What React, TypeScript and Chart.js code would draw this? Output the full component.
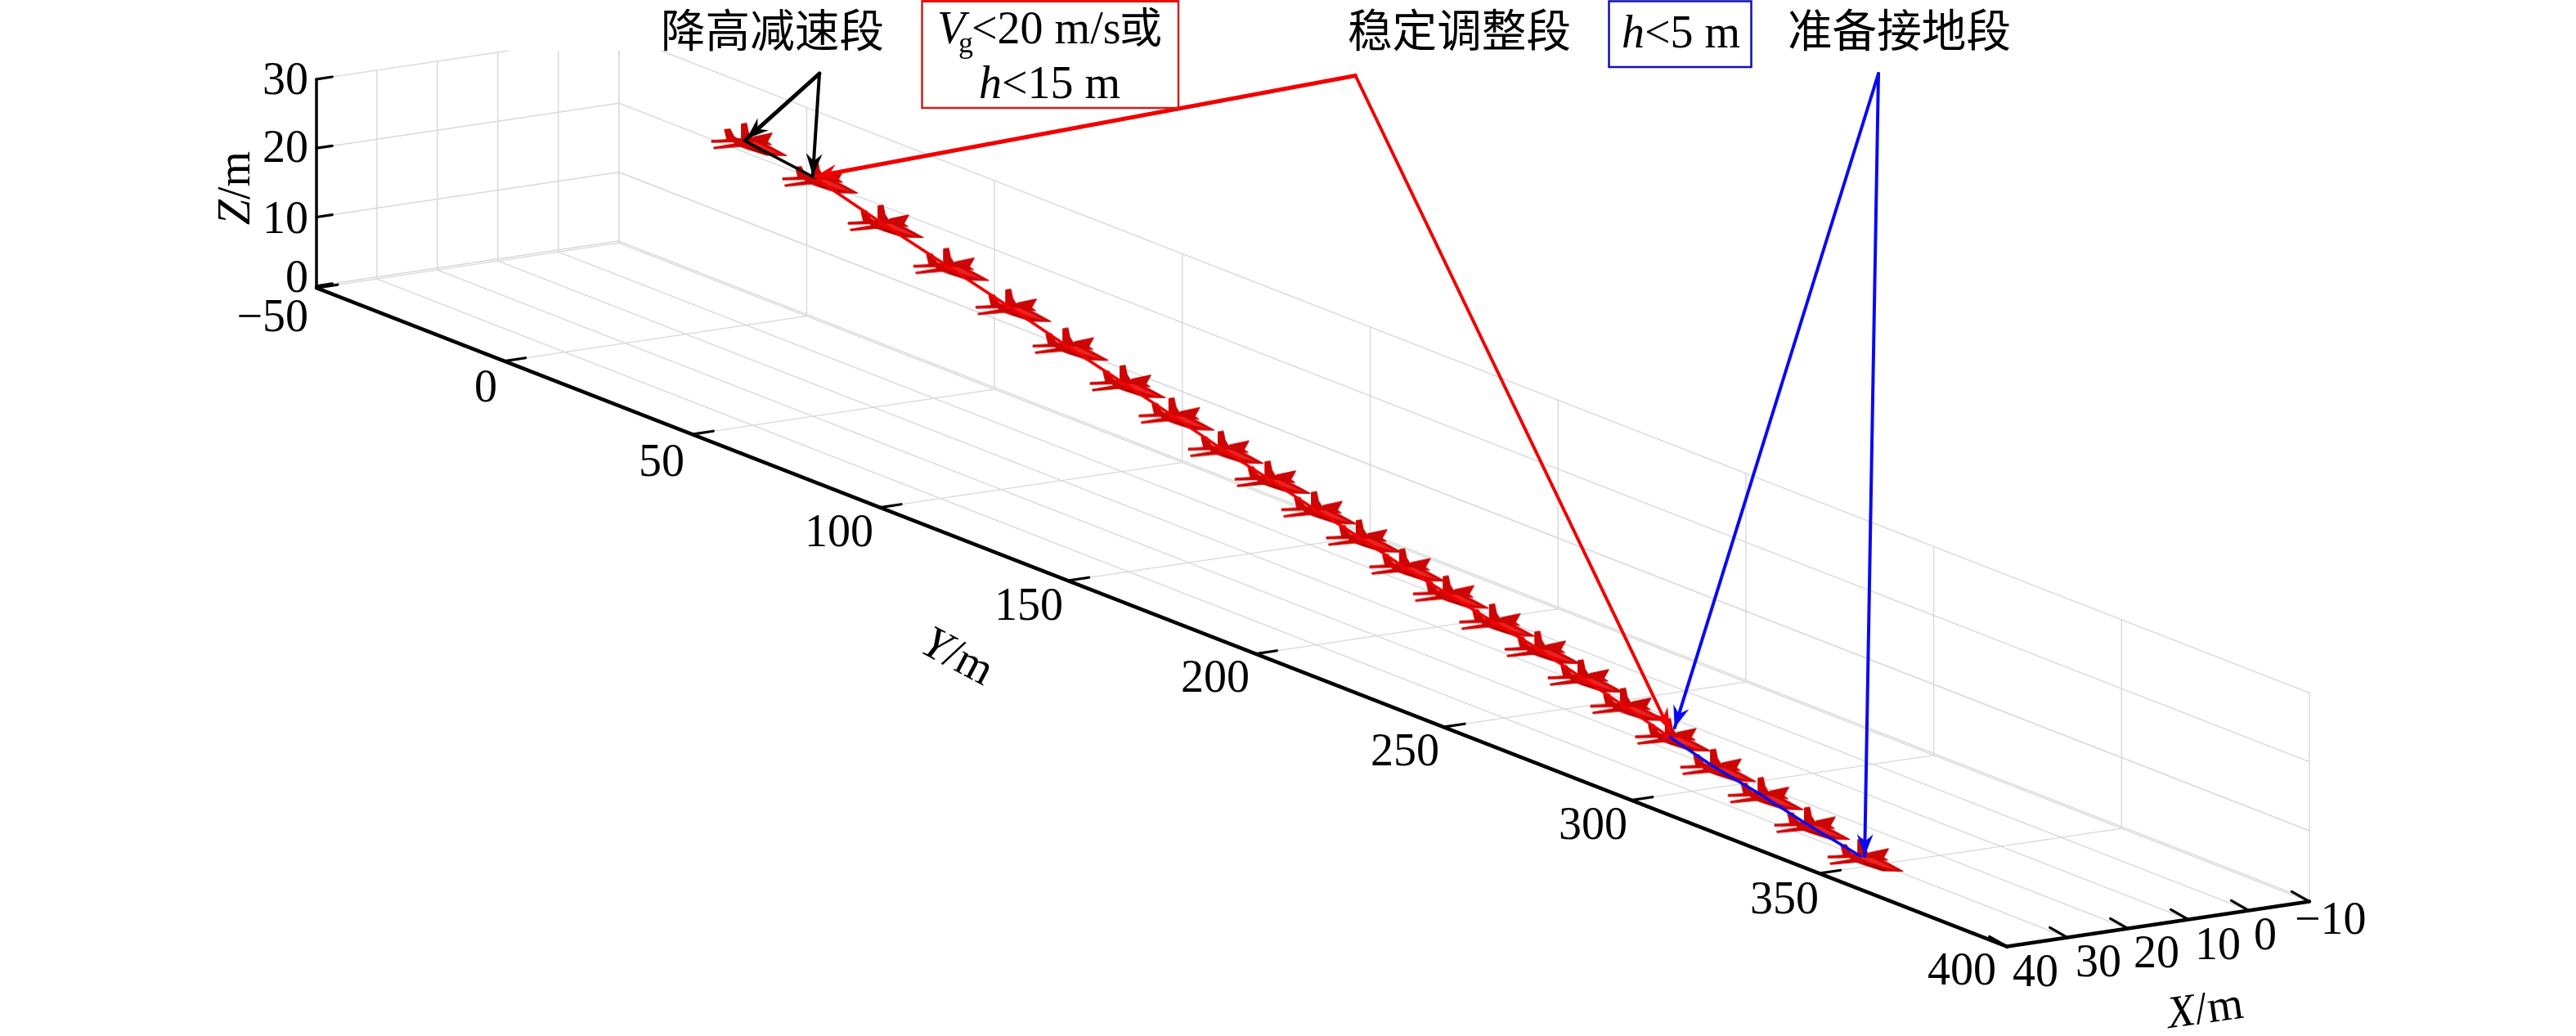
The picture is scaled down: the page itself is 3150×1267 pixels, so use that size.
import React, { useEffect, useRef } from "react";
import { Chart, registerables } from "chart.js";

Chart.register(...registerables);

// ---- data ----
const xTicks = [-10, 0, 10, 20, 30, 40];
const yTicks = [-50, 0, 50, 100, 150, 200, 250, 300, 350, 400];
const zTicks = [0, 10, 20, 30];
const zFloor = -0.27;

const flightX = [-9.3, -6.7, -4.3, -1.9, 0.3, 2.4, 4.5, 6.3, 8.1, 9.8, 11.5, 13.1, 14.7, 16.3, 17.9, 19.6, 21.1, 22.6, 24.3, 25.9, 27.6, 29.3, 31.3];
const flightY = [-15.5, 7.6, 28.9, 50.2, 70.3, 88.9, 107.5, 123.4, 139.4, 154.6, 169.7, 184.2, 198.3, 212.5, 227.4, 242.2, 256.1, 269.8, 284.5, 299.1, 314.5, 329.6, 347];
const flightZ = [22.0, 21.8, 20.2, 18.8, 17.4, 16.0, 14.8, 13.7, 12.5, 11.6, 10.6, 9.8, 8.8, 8.1, 7.4, 6.8, 5.8, 4.8, 3.7, 2.6, 2.0, 1.1, 0.45];

const segmentDescent = [0, 1];
const segmentSteady = [1, 18];
const segmentFlare = [18, 22];

const zTickLabels = ["0", "10", "20", "30"];
const yTickLabels = ["\u221250", "0", "50", "100", "150", "200", "250", "300", "350", "400"];
const xTickLabels = ["\u221210", "0", "10", "20", "30", "40"];

// ---- view of the 3D box (orthographic) ----
const VIEW = { ox: 387, oy: 349.8, yx: 4.594, yy: 1.79, xx: 7.394, xy: -1.1, zy: -8.43 };
const projX = (X: number, Y: number) => VIEW.ox + VIEW.yx * (Y + 50) + VIEW.xx * (40 - X);
const projY = (X: number, Y: number, Z: number) => VIEW.oy + VIEW.yy * (Y + 50) + VIEW.xy * (40 - X) + VIEW.zy * Z;
const P = (X: number, Y: number, Z: number) => ({ x: projX(X, Y), y: projY(X, Y, Z) });
const flightPt = (i: number) => P(flightX[i], flightY[i], flightZ[i]);

// ---- layout ----
const SERIF = '"Liberation Serif", "Times New Roman", serif';
const CJK = '"Noto Sans CJK SC", sans-serif';
const TICK_FONT = `56px ${SERIF}`;
const ITALIC_FONT = `italic 56px ${SERIF}`;
const GRID = "#d8d8d8";
const RED = "#f00000";
const BLUE = "#0a0af0";

const zLabelPos = [[377, 338], [377, 266], [377, 179], [377, 96]];
const yLabelPos = [[377, 386], [608, 472], [837, 563], [1068, 649], [1300, 739], [1528, 827], [1760, 917], [1990, 1007], [2224, 1098], [2441, 1185]];
const xLabelPos = [[2806, 1123], [2770, 1142], [2712, 1154], [2637, 1164], [2566, 1175], [2489, 1187]];

const leaders = [
  { color: "#000000", width: 5, start: [1002, 90], tip: 0, nudge: [3, -2] },
  { color: "#000000", width: 4, start: [1002, 90], tip: 1, nudge: [-3, -3] },
  { color: RED, width: 5, start: [1657.5, 92.5], tip: 1, nudge: [0, -2] },
  { color: RED, width: 4, start: [1657.5, 92.5], tip: 18, nudge: [2, -7] },
  { color: BLUE, width: 4, start: [2297, 90], tip: 18, nudge: [8, -10] },
  { color: BLUE, width: 4, start: [2297, 90], tip: 22, nudge: [5, 0] },
];
const tipOf = (l: (typeof leaders)[number]) => {
  const p = flightPt(l.tip);
  return { x: p.x + l.nudge[0], y: p.y + l.nudge[1] };
};

// ---- aircraft glyph ----
function makePlane(): HTMLCanvasElement {
  const c = document.createElement("canvas");
  c.width = 120;
  c.height = 60;
  const g = c.getContext("2d") as CanvasRenderingContext2D;
  g.translate(60, 30);
  g.lineJoin = "round";
  const poly = (fill: string, pts: number[][], stroke = 0) => {
    g.fillStyle = fill;
    g.strokeStyle = fill;
    g.lineWidth = stroke;
    g.beginPath();
    pts.forEach((p, i) => (i ? g.lineTo(p[0], p[1]) : g.moveTo(p[0], p[1])));
    g.closePath();
    g.fill();
    if (stroke) g.stroke();
  };
  const main = "#cc0505";
  poly(main, [[-40, -0.3], [-5, -2.3], [-3.3, 1.7], [-40, 2.3]], 0.8);
  poly(main, [[-37.7, 8.3], [-3.3, 2.3], [1.7, 6.7], [-36.7, 10.3]], 0.8);
  poly(main, [[-3.3, -20], [2.7, -21], [5, -10], [10, -1.7], [-3.3, 0]], 1.4);
  poly(main, [[-24, -13.3], [-17.3, -14], [-12.7, -5], [-6, 0], [-20.7, 0]], 1.4);
  poly(main, [[34, -9], [28, 1.7], [33, 5], [3, 1.7], [11.7, -4.3]], 1.4);
  poly(main, [[-16.7, -3.3], [13, 0], [30, 6.7], [51.7, 18.3], [26.7, 17.7], [3.3, 10], [-10, 5]], 1.4);
  poly("#8e0303", [[3.3, 9], [25, 16.7], [32, 17.7], [16.7, 11.7]], 0.5);
  poly("#ee2020", [[-4, 1], [14, 2], [33, 11], [44, 17], [28, 13], [10, 7]]);
  return c;
}

// ---- text helpers ----
type Run = { t: string; f: string };
function runWidth(ctx: CanvasRenderingContext2D, runs: Run[]) {
  return runs.reduce((w, r) => {
    ctx.font = r.f;
    return w + ctx.measureText(r.t).width;
  }, 0);
}
function drawRuns(ctx: CanvasRenderingContext2D, x: number, y: number, runs: Run[]) {
  let cx = x;
  runs.forEach((r) => {
    ctx.font = r.f;
    ctx.fillText(r.t, cx, y);
    cx += ctx.measureText(r.t).width;
  });
}
function drawRotated(ctx: CanvasRenderingContext2D, cx: number, cy: number, deg: number, runs: Run[]) {
  ctx.save();
  ctx.translate(cx, cy);
  ctx.rotate((deg * Math.PI) / 180);
  drawRuns(ctx, -runWidth(ctx, runs) / 2, 19, runs);
  ctx.restore();
}

const overlay = {
  id: "overlay",
  afterDatasetsDraw(chart: any) {
    const ctx: CanvasRenderingContext2D = chart.ctx;
    const sx = chart.scales.x;
    const sy = chart.scales.y;
    ctx.save();
    // arrow heads
    leaders.forEach((l) => {
      const tip = tipOf(l);
      const px = sx.getPixelForValue(tip.x);
      const py = sy.getPixelForValue(tip.y);
      const a = Math.atan2(py - sy.getPixelForValue(l.start[1]), px - sx.getPixelForValue(l.start[0]));
      ctx.save();
      ctx.translate(px, py);
      ctx.rotate(a);
      ctx.fillStyle = l.color;
      ctx.beginPath();
      ctx.moveTo(0, 0);
      ctx.lineTo(-27, 10);
      ctx.lineTo(-18, 0);
      ctx.lineTo(-27, -10);
      ctx.closePath();
      ctx.fill();
      ctx.restore();
    });

    // tick labels
    ctx.fillStyle = "#000";
    ctx.textBaseline = "alphabetic";
    ctx.font = TICK_FONT;
    ctx.textAlign = "right";
    zTickLabels.forEach((t, i) => ctx.fillText(t, zLabelPos[i][0], zLabelPos[i][1] + 19));
    yTickLabels.forEach((t, i) => ctx.fillText(t, yLabelPos[i][0], yLabelPos[i][1] + 19));
    ctx.textAlign = "left";
    ctx.fillText(xTickLabels[0], xLabelPos[0][0], xLabelPos[0][1] + 19);
    ctx.textAlign = "center";
    xTickLabels.slice(1).forEach((t, i) => ctx.fillText(t, xLabelPos[i + 1][0], xLabelPos[i + 1][1] + 19));
    ctx.textAlign = "left";

    // axis titles
    drawRotated(ctx, 286, 230, -90, [{ t: "Z", f: ITALIC_FONT }, { t: "/m", f: TICK_FONT }]);
    drawRotated(ctx, 1172, 801, 28, [{ t: "Y", f: ITALIC_FONT }, { t: "/m", f: TICK_FONT }]);
    drawRotated(ctx, 2696, 1232, -8, [{ t: "X", f: ITALIC_FONT }, { t: "/m", f: TICK_FONT }]);

    // annotation captions
    const cap = `54.6px ${CJK}`;
    ctx.font = cap;
    ctx.fillText("降高减速段", 808, 57);
    ctx.fillText("稳定调整段", 1648, 57);
    ctx.fillText("准备接地段", 2186, 57);

    // red box
    ctx.lineWidth = 2.5;
    ctx.strokeStyle = "#c82020";
    ctx.strokeRect(1127.5, 1.5, 313.5, 130.5);
    ctx.strokeStyle = "#e80000";
    ctx.beginPath();
    ctx.moveTo(1127, 1.5);
    ctx.lineTo(1441, 1.5);
    ctx.stroke();
    ctx.font = ITALIC_FONT;
    ctx.fillText("V", 1146, 53);
    ctx.font = `36px ${SERIF}`;
    ctx.fillText("g", 1172, 64);
    ctx.font = TICK_FONT;
    ctx.fillText("<20 m/s", 1188, 53);
    ctx.font = `52px ${CJK}`;
    ctx.fillText("或", 1369, 53);
    drawRuns(ctx, 1197, 120, [{ t: "h", f: ITALIC_FONT }, { t: "<15 m", f: TICK_FONT }]);

    // blue box
    ctx.strokeStyle = "#1010b0";
    ctx.strokeRect(1967.5, 1.5, 174, 80.5);
    drawRuns(ctx, 1983, 58, [{ t: "h", f: ITALIC_FONT }, { t: "<5 m", f: TICK_FONT }]);
    ctx.restore();
  },
};

function line(points: { x: number; y: number }[], color: string, width: number, order: number, label = "") {
  return {
    type: "scatter" as const,
    label,
    data: points,
    showLine: true,
    borderColor: color,
    backgroundColor: color,
    borderWidth: width,
    borderCapStyle: "round" as const,
    pointRadius: 0,
    order,
  };
}

function buildDatasets() {
  const ds: any[] = [];
  const xMin = xTicks[0];
  const xMax = xTicks[xTicks.length - 1];
  const yMin = yTicks[0];
  const yMax = yTicks[yTicks.length - 1];
  const zTop = zTicks[zTicks.length - 1];

  xTicks.forEach((X) => ds.push(line([P(X, yMin, zFloor), P(X, yMax, zFloor)], GRID, 1.4, 30, "floor-x")));
  yTicks.forEach((Y) => ds.push(line([P(xMin, Y, zFloor), P(xMax, Y, zFloor)], GRID, 1.4, 30, "floor-y")));
  yTicks.forEach((Y) => ds.push(line([P(xMin, Y, zFloor), P(xMin, Y, zTop)], GRID, 1.4, 30, "back-y")));
  xTicks.forEach((X) => ds.push(line([P(X, yMin, zFloor), P(X, yMin, zTop)], GRID, 1.4, 30, "side-x")));
  zTicks.forEach((Z) => {
    ds.push(line([P(xMin, yMin, Z), P(xMin, yMax, Z)], GRID, 1.4, 30, "back-z"));
    ds.push(line([P(xMax, yMin, Z), P(xMin, yMin, Z)], GRID, 1.4, 30, "side-z"));
  });

  ds.push({
    type: "scatter",
    label: "aircraft",
    data: flightX.map((_, i) => flightPt(i)),
    showLine: false,
    pointStyle: makePlane(),
    pointRadius: 10,
    order: 20,
  });

  const seg = (r: number[]) => flightX.slice(r[0], r[1] + 1).map((_, i) => flightPt(r[0] + i));
  ds.push(line(seg(segmentDescent), "#000000", 3.5, 15, "descent"));
  ds.push(line(seg(segmentSteady), RED, 3.5, 15, "steady"));
  ds.push(line(seg(segmentFlare), BLUE, 3.5, 15, "flare"));

  leaders.forEach((l) =>
    ds.push(line([{ x: l.start[0], y: l.start[1] }, tipOf(l)], l.color, l.width, 10, "leader"))
  );

  const black = "#000000";
  ds.push(line([P(xMax, yMin, zFloor), P(xMax, yMin, zTop)], black, 3.5, 5, "z-axis"));
  ds.push(line([P(xMax, yMin, zFloor), P(xMax, yMax, zFloor)], black, 4.5, 5, "y-axis"));
  ds.push(line([P(xMax, yMax, zFloor), P(xMin, yMax, zFloor)], black, 4.5, 5, "x-axis"));
  zTicks.forEach((Z) => ds.push(line([P(xMax, yMin, Z), P(xMax - 2.6, yMin, Z)], black, 3.2, 5, "z-tick")));
  yTicks.forEach((Y) => ds.push(line([P(xMax, Y, zFloor), P(xMax - 3.5, Y, zFloor)], black, 3.2, 5, "y-tick")));
  xTicks.forEach((X) => ds.push(line([P(X, yMax, zFloor), P(X, yMax - 4.7, zFloor + 0.45)], black, 3.2, 5, "x-tick")));
  return ds;
}

export default function App() {
  const ref = useRef<HTMLCanvasElement>(null);
  useEffect(() => {
    document.body.style.margin = "0";
    document.body.style.background = "#fff";
    const chart = new Chart(ref.current as HTMLCanvasElement, {
      type: "scatter",
      data: { datasets: buildDatasets() },
      options: {
        animation: false,
        responsive: false,
        devicePixelRatio: 1,
        events: [],
        layout: { autoPadding: false, padding: { top: 62, left: 0, right: 0, bottom: 0 } },
        plugins: { legend: { display: false }, tooltip: { enabled: false }, title: { display: false } },
        scales: {
          x: { type: "linear", min: 0, max: 3150, display: false },
          y: { type: "linear", min: 62, max: 1267, reverse: true, display: false },
        },
      },
      plugins: [overlay],
    } as any);
    return () => chart.destroy();
  }, []);
  return (
    <canvas
      ref={ref}
      width={3150}
      height={1267}
      style={{ position: "fixed", left: 0, top: 0, display: "block", width: 3150, height: 1267 }}
    />
  );
}
